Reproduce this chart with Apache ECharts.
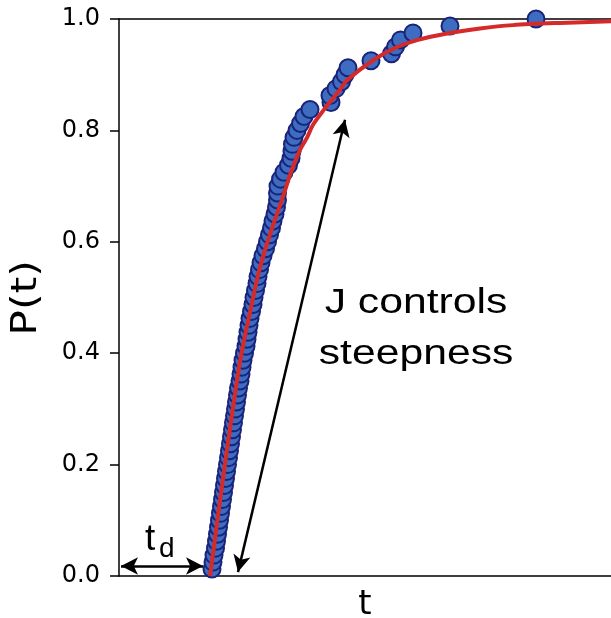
<!DOCTYPE html>
<html>
<head>
<meta charset="utf-8">
<script src="https://cdn.jsdelivr.net/npm/echarts@6/dist/echarts.min.js"></script>
<style>
  html, body { margin: 0; padding: 0; background: #fff; overflow: hidden; }
  #chart { width: 611px; height: 618px; }
</style>
</head>
<body>
<div id="chart"></div>
<script>
// empirical CDF: 80 observations, P = k/80
var sampleT = [
  9.3, 9.4, 9.5, 9.65, 9.75, 9.85, 9.95, 10.05, 10.15, 10.25,
  10.35, 10.45, 10.55, 10.65, 10.75, 10.85, 10.95, 11.05, 11.15, 11.25,
  11.35, 11.45, 11.55, 11.65, 11.75, 11.85, 11.95, 12.1, 12.2, 12.3,
  12.4, 12.55, 12.7, 12.8, 12.9, 13.0, 13.1, 13.25, 13.4, 13.5,
  13.65, 13.8, 13.9, 14.05, 14.2, 14.4, 14.65, 14.85, 15.05, 15.25,
  15.4, 15.6, 15.75, 15.85, 15.85, 15.9, 16.15, 16.5, 16.95, 17.2,
  17.3, 17.35, 17.5, 17.8, 18.15, 18.5, 19.1, 21.2, 21.1, 21.7,
  22.25, 22.6, 22.9, 25.2, 27.25, 27.65, 28.15, 29.4, 33.1, 41.7
];
var sampleP = [];
for (var k = 1; k <= sampleT.length; k++) sampleP.push(k / sampleT.length);

// fitted curve
var fitT = [9.1, 10.4, 11.3, 12.1, 12.7, 13.3, 13.9, 14.6, 15.5, 16.4, 17.2, 18.1, 18.8,
  19.4, 20.4, 22.1, 22.8, 25.4, 27.6, 29.8, 32.8, 36.1, 39.4, 44.1, 49.2];
var fitP = [0, 0.175, 0.29, 0.385, 0.44, 0.49, 0.54, 0.585, 0.635, 0.681, 0.725, 0.765, 0.787,
  0.81, 0.835, 0.873, 0.89, 0.926, 0.948, 0.962, 0.974, 0.983, 0.989, 0.993, 0.996];

// annotation arrows [t, P]
var delayArrow = [[0.2, 0.018], [8.4, 0.018]];
var steepArrow = [[11.9, 0.007], [22.6, 0.819]];

var yTicks = [0, 0.2, 0.4, 0.6, 0.8, 1.0];

var chart = echarts.init(document.getElementById('chart'));

var points = sampleT.map(function (t, i) { return [t, sampleP[i]]; });
var fit = fitT.map(function (t, i) { return [t, fitP[i]]; });

var arrowStyle = { color: '#000', width: 2.5, type: 'solid' };

var option = {
  animation: false,
  grid: { left: 119, right: 0, top: 19, bottom: 42, containLabel: false, outerBoundsMode: 'none' },
  xAxis: [{
    type: 'value', min: 0, max: 49.2,
    name: 't', nameLocation: 'middle', nameGap: 12,
    nameTextStyle: { fontFamily: 'DejaVu Sans', fontSize: 34, color: '#000', verticalAlign: 'top' },
    axisLine: { lineStyle: { color: '#000', width: 1.5 } },
    axisTick: { show: false }, axisLabel: { show: false }, splitLine: { show: false }
  }, {
    type: 'value', min: 0, max: 49.2, position: 'top',
    axisLine: { show: true, lineStyle: { color: '#000', width: 1.5 } },
    axisTick: { show: false }, axisLabel: { show: false }, splitLine: { show: false }
  }],
  yAxis: {
    type: 'value', min: 0, max: 1, interval: 0.2,
    axisLine: { show: true, lineStyle: { color: '#000', width: 1.5 } },
    axisTick: { show: true, length: 9, lineStyle: { color: '#000', width: 1.5 } },
    axisLabel: {
      margin: 19, color: '#000', fontFamily: 'DejaVu Sans', fontSize: 24,
      formatter: function (v) { return yTicks.indexOf(v) >= 0 ? v.toFixed(1) : ''; }
    },
    splitLine: { show: false }
  },
  series: [{
    type: 'scatter',
    data: points,
    symbolSize: 17,
    z: 2,
    itemStyle: { color: '#3d6cc0', borderColor: '#1a237a', borderWidth: 2, opacity: 1 }
  }, {
    type: 'line',
    data: fit,
    smooth: 0.3,
    showSymbol: false,
    z: 3,
    lineStyle: { color: '#d42a2a', width: 4 },
    markLine: {
      silent: true,
      symbol: ['arrow', 'arrow'],
      symbolSize: [13, 17],
      label: { show: false },
      lineStyle: arrowStyle,
      data: [
        [{ coord: delayArrow[0] }, { coord: delayArrow[1] }],
        [{ coord: steepArrow[0] }, { coord: steepArrow[1] }]
      ]
    }
  }],
  graphic: [{
    // y axis title, a little stretched like the source
    type: 'text', x: 27, y: 298, rotation: Math.PI / 2, scaleX: 1.18,
    style: { text: 'P(t)', font: '36px "DejaVu Sans"', fill: '#000',
      align: 'center', verticalAlign: 'middle' }
  }, {
    type: 'text', left: 145, top: 521,
    style: { text: 't', font: '37px "Liberation Sans"', fill: '#000' }
  }, {
    type: 'text', left: 159, top: 535,
    style: { text: 'd', font: '28px "Liberation Sans"', fill: '#000' }
  }, {
    type: 'text', x: 416, y: 303, scaleX: 1.22,
    style: { text: 'J controls', font: '35px "Liberation Sans"', fill: '#000',
      align: 'center', verticalAlign: 'middle' }
  }, {
    type: 'text', x: 416, y: 354, scaleX: 1.22,
    style: { text: 'steepness', font: '35px "Liberation Sans"', fill: '#000',
      align: 'center', verticalAlign: 'middle' }
  }]
};

chart.setOption(option);
</script>
</body>
</html>
